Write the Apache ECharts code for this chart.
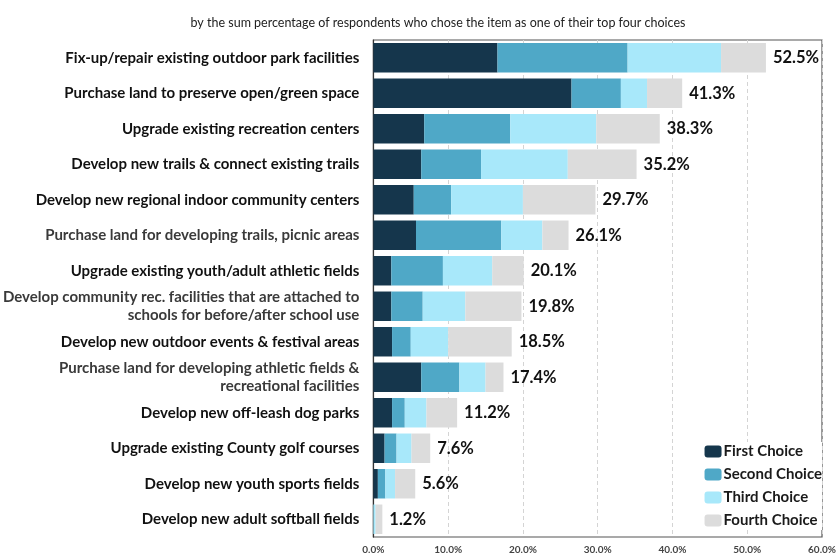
<!DOCTYPE html>
<html>
<head>
<meta charset="utf-8">
<script src="https://cdn.jsdelivr.net/npm/echarts@6/dist/echarts.min.js"></script>
<style>
  html, body { margin: 0; padding: 0; background: #fff; }
  #chart { width: 839px; height: 560px; }
</style>
</head>
<body>
<div id="chart"></div>
<script>
// Survey items, top to bottom
const categories = [
  'Fix-up/repair existing outdoor park facilities',
  'Purchase land to preserve open/green space',
  'Upgrade existing recreation centers',
  'Develop new trails & connect existing trails',
  'Develop new regional indoor community centers',
  'Purchase land for developing trails, picnic areas',
  'Upgrade existing youth/adult athletic fields',
  'Develop community rec. facilities that are attached to\nschools for before/after school use',
  'Develop new outdoor events & festival areas',
  'Purchase land for developing athletic fields &\nrecreational facilities',
  'Develop new off-leash dog parks',
  'Upgrade existing County golf courses',
  'Develop new youth sports fields',
  'Develop new adult softball fields'
];

// Percentage of respondents choosing each item as 1st..4th choice
const firstChoice  = [16.6, 26.5, 6.8, 6.4, 5.4, 5.7, 2.4, 2.4, 2.5, 6.4, 2.5, 1.5, 0.6, 0.0];
const secondChoice = [17.4, 6.6, 11.5, 8.0, 5.0, 11.4, 6.9, 4.2, 2.5, 5.1, 1.7, 1.6, 1.0, 0.0];
const thirdChoice  = [12.5, 3.5, 11.5, 11.6, 9.6, 5.5, 6.6, 5.7, 5.0, 3.5, 2.9, 2.0, 1.3, 0.3];
const fourthChoice = [6.0, 4.7, 8.5, 9.2, 9.7, 3.5, 4.2, 7.5, 8.5, 2.4, 4.1, 2.5, 2.7, 0.9];

const seriesNames = ['First Choice', 'Second Choice', 'Third Choice', 'Fourth Choice'];
const tickValues = [0, 10, 20, 30, 40, 50, 60];

const colors = ['#15364c', '#4fa8c7', '#a8e8fa', '#dcdcdc'];
const totals = categories.map((_, i) =>
  firstChoice[i] + secondChoice[i] + thirdChoice[i] + fourthChoice[i]);

// Items set in a lighter tone on the axis
const lighter = new Set([5, 7, 9]);

const font = 'Lato, "Open Sans", sans-serif';

const chart = echarts.init(document.getElementById('chart'));
const allValues = [firstChoice, secondChoice, thirdChoice, fourthChoice];

chart.setOption({
  animation: false,
  textStyle: { fontFamily: font },
  title: {
    text: 'by the sum percentage of respondents who chose the item as one of their top four choices',
    left: 433, top: 11, textAlign: 'center',
    textStyle: { fontSize: 12.5, fontWeight: 'normal', color: '#222', fontFamily: font }
  },
  grid: {
    left: 373, right: 14, top: 40, bottom: 23,
    show: true, borderColor: '#555', borderWidth: 1.2, backgroundColor: 'transparent'
  },
  legend: {
    orient: 'vertical',
    right: 17, top: 442,
    itemWidth: 17, itemHeight: 12, itemGap: 8,
    backgroundColor: '#fff',
    padding: [2, 0, 2, 2],
    data: seriesNames,
    textStyle: { fontSize: 15, fontWeight: 'bold', color: '#1a1a1a', fontFamily: font, padding: [0, 0, 0, -3] }
  },
  xAxis: {
    type: 'value', min: 0, max: 60, interval: 10,
    axisLine: { show: false }, axisTick: { show: false },
    splitLine: { show: true, lineStyle: { color: '#d4d4d4', type: [4, 3], width: 1 } },
    axisLabel: {
      margin: 8, fontSize: 10, fontWeight: 'bold', color: '#444',
      customValues: tickValues,
      formatter: v => v.toFixed(1) + '%'
    }
  },
  yAxis: {
    type: 'category', inverse: true, data: categories,
    axisLine: { show: true, lineStyle: { color: '#333', width: 1.2 } },
    axisTick: { show: false },
    axisLabel: {
      margin: 14, fontSize: 15, fontWeight: 'bold', lineHeight: 18, align: 'right',
      color: (v, i) => lighter.has(i) ? '#3a3a3a' : '#111'
    }
  },
  series: seriesNames.map((name, s) => ({
    name, type: 'bar', stack: 'total',
    barCategoryGap: '17%',
    itemStyle: { color: colors[s] },
    data: allValues[s],
    label: s === 3 ? {
      show: true, position: 'right', distance: 7,
      fontSize: 16.5, fontWeight: 'bold', color: '#111', fontFamily: font,
      formatter: p => totals[p.dataIndex].toFixed(1) + '%'
    } : { show: false }
  }))
});
</script>
</body>
</html>
